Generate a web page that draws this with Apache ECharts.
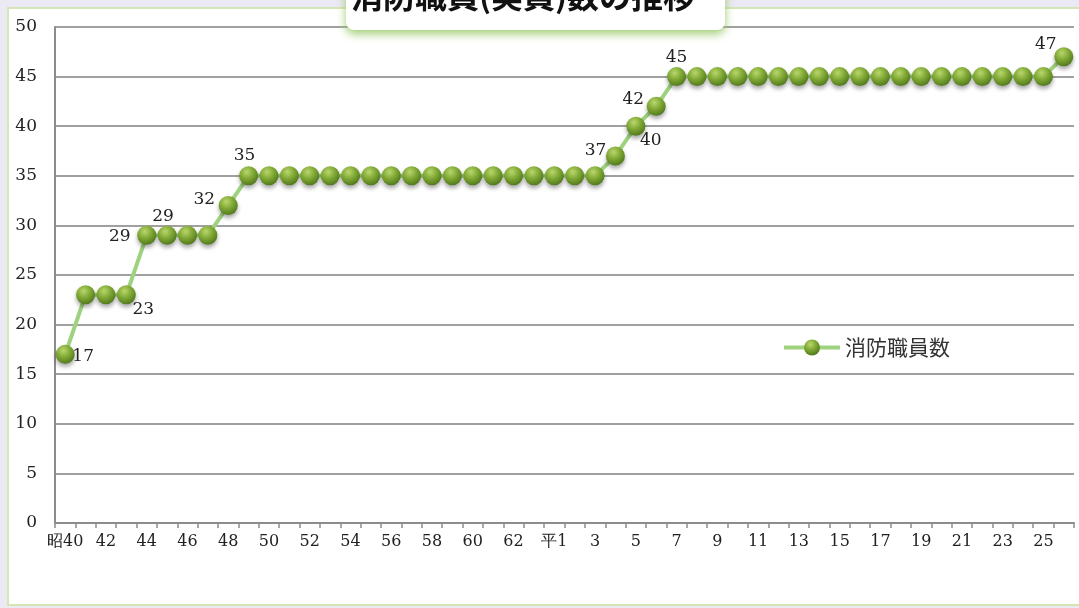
<!DOCTYPE html>
<html>
<head>
<meta charset="utf-8">
<style>
  html, body { margin: 0; padding: 0; background: #ebe9f3; }
  #main { width: 1079px; height: 608px; }
</style>
<script src="https://cdn.jsdelivr.net/npm/echarts@6/dist/echarts.min.js"></script>
</head>
<body>
<div id="main"></div>
<script>
// 年度（昭和40〜63、平成1〜26）
const years = [
  '昭40', '41', '42', '43', '44', '45', '46', '47', '48', '49',
  '50', '51', '52', '53', '54', '55', '56', '57', '58', '59',
  '60', '61', '62', '63',
  '平1', '2', '3', '4', '5', '6', '7', '8', '9', '10',
  '11', '12', '13', '14', '15', '16', '17', '18', '19', '20',
  '21', '22', '23', '24', '25', '26'
];
// 消防職員数
const staff = [
  17, 23, 23, 23, 29, 29, 29, 29, 32, 35,
  35, 35, 35, 35, 35, 35, 35, 35, 35, 35,
  35, 35, 35, 35,
  35, 35, 35, 37, 40, 42, 45, 45, 45, 45,
  45, 45, 45, 45, 45, 45, 45, 45, 45, 45,
  45, 45, 45, 45, 45, 47
];
const yTicks = [0, 5, 10, 15, 20, 25, 30, 35, 40, 45, 50];

// ラベルを出す点と、点の中心からのずれ
const labelShift = {
  0: [18, 2],
  3: [17, 15],
  4: [-27, 1],
  5: [-4, -19],
  8: [-24, -6],
  9: [-4, -20],
  27: [-20, -5],
  28: [15, 14],
  29: [-23, -7],
  30: [0, -19],
  49: [-18, -12]
};

const serif = '"DejaVu Serif", "Liberation Serif", serif';
const markSize = 19;

const seriesData = staff.map(function (v, i) {
  const s = labelShift[i];
  if (!s) return v;
  return {
    value: v,
    label: {
      show: true,
      position: [markSize / 2 + s[0], markSize / 2 + s[1]],
      align: 'center',
      verticalAlign: 'middle'
    }
  };
});

const myChart = echarts.init(document.getElementById('main'));
const options = {
  backgroundColor: '#ebe9f3',
  animation: false,
  graphic: [
    {
      type: 'rect',
      z: -10,
      shape: { x: 8, y: 8, width: 1090, height: 597 },
      style: { fill: '#ffffff', stroke: '#d3e6b4', lineWidth: 2 }
    },
    {
      type: 'rect',
      z: 100,
      shape: { x: 346, y: -40, width: 379, height: 70, r: 8 },
      style: {
        fill: '#ffffff',
        shadowBlur: 10,
        shadowOffsetY: 4,
        shadowColor: 'rgba(150,200,100,0.9)'
      }
    },
    {
      type: 'text',
      z: 101,
      x: 523,
      y: -4,
      style: {
        text: '消防職員(実員)数の推移',
        font: 'bold 32px "Noto Sans CJK JP"',
        fill: '#111',
        align: 'center',
        verticalAlign: 'middle'
      }
    }
  ],
  grid: {
    left: 55,
    right: 5,
    top: 27,
    bottom: 85
  },
  legend: {
    left: 777,
    top: 332,
    itemWidth: 56,
    itemHeight: 20,
    itemGap: 10,
    lineStyle: { width: 4 },
    textStyle: {
      fontFamily: '"Noto Sans CJK JP"',
      fontSize: 21,
      color: '#333'
    },
    data: ['消防職員数']
  },
  xAxis: {
    type: 'category',
    boundaryGap: true,
    data: years,
    axisLine: { lineStyle: { color: '#8c8c8c', width: 2 } },
    axisTick: {
      show: true,
      interval: 0,
      length: 5,
      lineStyle: { color: '#8c8c8c', width: 1.5 }
    },
    axisLabel: {
      interval: 1,
      margin: 11,
      fontFamily: serif,
      fontSize: 16,
      color: '#222'
    }
  },
  yAxis: {
    type: 'value',
    min: 0,
    max: 50,
    interval: 5,
    axisLine: { show: true, lineStyle: { color: '#8c8c8c', width: 2 } },
    axisTick: { show: false },
    axisLabel: {
      margin: 18,
      fontFamily: serif,
      fontSize: 17,
      color: '#222',
      customValues: yTicks
    },
    splitLine: { lineStyle: { color: '#a0a0a0', width: 2 } }
  },
  series: [
    {
      name: '消防職員数',
      type: 'line',
      data: seriesData,
      symbol: 'circle',
      symbolSize: markSize,
      showAllSymbol: true,
      lineStyle: { color: '#9fd27f', width: 4 },
      itemStyle: {
        color: new echarts.graphic.RadialGradient(0.4, 0.3, 0.75, [
          { offset: 0, color: '#b9d76c' },
          { offset: 0.5, color: '#7ea633' },
          { offset: 1, color: '#4c741a' }
        ]),
        borderWidth: 0,
        shadowBlur: 4,
        shadowOffsetY: 3,
        shadowColor: 'rgba(0,0,0,0.35)'
      },
      labelLayout: { hideOverlap: false },
      label: {
        show: false,
        fontFamily: serif,
        fontSize: 17,
        color: '#222'
      }
    }
  ]
};
myChart.setOption(options);
</script>
</body>
</html>
